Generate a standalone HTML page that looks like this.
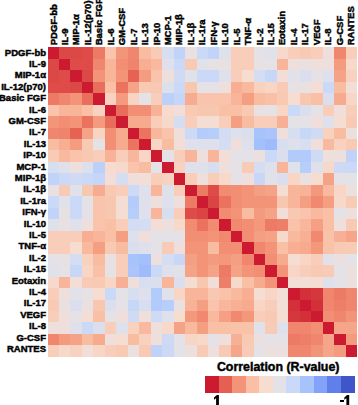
<!DOCTYPE html>
<html><head><meta charset="utf-8"><style>
html,body{margin:0;padding:0;background:#fff;width:358px;height:405px;overflow:hidden}
svg{display:block}
text{font-family:"Liberation Sans",sans-serif;font-weight:bold;fill:#000;stroke:#000;stroke-width:0.45px}
.lab{font-size:9.5px}
.ttl{font-size:12.4px}
</style></head><body>
<svg width="358" height="405" viewBox="0 0 358 405" shape-rendering="crispEdges">
<g><rect x="47.50" y="47.30" width="11.77" height="11.77" fill="#cc1b30"/>
<rect x="58.97" y="47.30" width="11.77" height="11.77" fill="#dc4846"/>
<rect x="70.43" y="47.30" width="11.77" height="11.77" fill="#dc4846"/>
<rect x="81.89" y="47.30" width="11.77" height="11.77" fill="#de4b48"/>
<rect x="93.36" y="47.30" width="11.77" height="11.77" fill="#ec7a64"/>
<rect x="104.83" y="47.30" width="11.77" height="11.77" fill="#f9c4ab"/>
<rect x="116.29" y="47.30" width="11.77" height="11.77" fill="#f39579"/>
<rect x="127.75" y="47.30" width="11.77" height="11.77" fill="#f0866e"/>
<rect x="139.22" y="47.30" width="11.77" height="11.77" fill="#f8bca0"/>
<rect x="150.69" y="47.30" width="11.77" height="11.77" fill="#f8cbb6"/>
<rect x="162.15" y="47.30" width="11.77" height="11.77" fill="#d7deef"/>
<rect x="173.62" y="47.30" width="11.77" height="11.77" fill="#c1d4f8"/>
<rect x="185.08" y="47.30" width="11.77" height="11.77" fill="#e9e0e1"/>
<rect x="196.54" y="47.30" width="11.77" height="11.77" fill="#cad9f7"/>
<rect x="208.01" y="47.30" width="11.77" height="11.77" fill="#c1d4f8"/>
<rect x="219.47" y="47.30" width="11.77" height="11.77" fill="#dee0eb"/>
<rect x="230.94" y="47.30" width="11.77" height="11.77" fill="#f8ceba"/>
<rect x="242.41" y="47.30" width="11.77" height="11.77" fill="#f8ceba"/>
<rect x="253.87" y="47.30" width="11.77" height="11.77" fill="#e4e2e7"/>
<rect x="265.34" y="47.30" width="11.77" height="11.77" fill="#e0e1e9"/>
<rect x="276.80" y="47.30" width="11.77" height="11.77" fill="#f7d9cc"/>
<rect x="288.26" y="47.30" width="11.77" height="11.77" fill="#f8ceba"/>
<rect x="299.73" y="47.30" width="11.77" height="11.77" fill="#f8cab4"/>
<rect x="311.19" y="47.30" width="11.77" height="11.77" fill="#f8ceba"/>
<rect x="322.66" y="47.30" width="11.77" height="11.77" fill="#eedfdc"/>
<rect x="334.12" y="47.30" width="11.77" height="11.77" fill="#f0866e"/>
<rect x="345.59" y="47.30" width="11.77" height="11.77" fill="#f8ceba"/>
<rect x="47.50" y="58.77" width="11.77" height="11.77" fill="#dc4846"/>
<rect x="58.97" y="58.77" width="11.77" height="11.77" fill="#cc1b30"/>
<rect x="70.43" y="58.77" width="11.77" height="11.77" fill="#de4b48"/>
<rect x="81.89" y="58.77" width="11.77" height="11.77" fill="#de4b48"/>
<rect x="93.36" y="58.77" width="11.77" height="11.77" fill="#f0866e"/>
<rect x="104.83" y="58.77" width="11.77" height="11.77" fill="#f8b59a"/>
<rect x="116.29" y="58.77" width="11.77" height="11.77" fill="#f28e73"/>
<rect x="127.75" y="58.77" width="11.77" height="11.77" fill="#ef846c"/>
<rect x="139.22" y="58.77" width="11.77" height="11.77" fill="#f7ae93"/>
<rect x="150.69" y="58.77" width="11.77" height="11.77" fill="#f8b99e"/>
<rect x="162.15" y="58.77" width="11.77" height="11.77" fill="#dee0eb"/>
<rect x="173.62" y="58.77" width="11.77" height="11.77" fill="#cad9f7"/>
<rect x="185.08" y="58.77" width="11.77" height="11.77" fill="#f8cab4"/>
<rect x="196.54" y="58.77" width="11.77" height="11.77" fill="#e0e1e9"/>
<rect x="208.01" y="58.77" width="11.77" height="11.77" fill="#e6e1e5"/>
<rect x="219.47" y="58.77" width="11.77" height="11.77" fill="#e9e0e1"/>
<rect x="230.94" y="58.77" width="11.77" height="11.77" fill="#f8ceba"/>
<rect x="242.41" y="58.77" width="11.77" height="11.77" fill="#f8ceba"/>
<rect x="253.87" y="58.77" width="11.77" height="11.77" fill="#e6e1e5"/>
<rect x="265.34" y="58.77" width="11.77" height="11.77" fill="#e4e2e7"/>
<rect x="276.80" y="58.77" width="11.77" height="11.77" fill="#f8b59a"/>
<rect x="288.26" y="58.77" width="11.77" height="11.77" fill="#eedfdc"/>
<rect x="299.73" y="58.77" width="11.77" height="11.77" fill="#e9e0e1"/>
<rect x="311.19" y="58.77" width="11.77" height="11.77" fill="#efded9"/>
<rect x="322.66" y="58.77" width="11.77" height="11.77" fill="#eedfdc"/>
<rect x="334.12" y="58.77" width="11.77" height="11.77" fill="#f49a7e"/>
<rect x="345.59" y="58.77" width="11.77" height="11.77" fill="#f7d9cc"/>
<rect x="47.50" y="70.23" width="11.77" height="11.77" fill="#dc4846"/>
<rect x="58.97" y="70.23" width="11.77" height="11.77" fill="#de4b48"/>
<rect x="70.43" y="70.23" width="11.77" height="11.77" fill="#cc1b30"/>
<rect x="81.89" y="70.23" width="11.77" height="11.77" fill="#dc4846"/>
<rect x="93.36" y="70.23" width="11.77" height="11.77" fill="#f39377"/>
<rect x="104.83" y="70.23" width="11.77" height="11.77" fill="#f8b59a"/>
<rect x="116.29" y="70.23" width="11.77" height="11.77" fill="#f39377"/>
<rect x="127.75" y="70.23" width="11.77" height="11.77" fill="#e66354"/>
<rect x="139.22" y="70.23" width="11.77" height="11.77" fill="#f49c80"/>
<rect x="150.69" y="70.23" width="11.77" height="11.77" fill="#f9c4ab"/>
<rect x="162.15" y="70.23" width="11.77" height="11.77" fill="#eedfdc"/>
<rect x="173.62" y="70.23" width="11.77" height="11.77" fill="#d0dbf3"/>
<rect x="185.08" y="70.23" width="11.77" height="11.77" fill="#e0e1e9"/>
<rect x="196.54" y="70.23" width="11.77" height="11.77" fill="#cad9f7"/>
<rect x="208.01" y="70.23" width="11.77" height="11.77" fill="#cad9f7"/>
<rect x="219.47" y="70.23" width="11.77" height="11.77" fill="#dee0eb"/>
<rect x="230.94" y="70.23" width="11.77" height="11.77" fill="#f8ceba"/>
<rect x="242.41" y="70.23" width="11.77" height="11.77" fill="#f7dcd0"/>
<rect x="253.87" y="70.23" width="11.77" height="11.77" fill="#d4ddf1"/>
<rect x="265.34" y="70.23" width="11.77" height="11.77" fill="#c6d7f8"/>
<rect x="276.80" y="70.23" width="11.77" height="11.77" fill="#f2ded6"/>
<rect x="288.26" y="70.23" width="11.77" height="11.77" fill="#e0e1e9"/>
<rect x="299.73" y="70.23" width="11.77" height="11.77" fill="#dadeed"/>
<rect x="311.19" y="70.23" width="11.77" height="11.77" fill="#e6e1e5"/>
<rect x="322.66" y="70.23" width="11.77" height="11.77" fill="#dee0eb"/>
<rect x="334.12" y="70.23" width="11.77" height="11.77" fill="#f5a387"/>
<rect x="345.59" y="70.23" width="11.77" height="11.77" fill="#f8d2c1"/>
<rect x="47.50" y="81.69" width="11.77" height="11.77" fill="#de4b48"/>
<rect x="58.97" y="81.69" width="11.77" height="11.77" fill="#de4b48"/>
<rect x="70.43" y="81.69" width="11.77" height="11.77" fill="#dc4846"/>
<rect x="81.89" y="81.69" width="11.77" height="11.77" fill="#cc1b30"/>
<rect x="93.36" y="81.69" width="11.77" height="11.77" fill="#e96f5d"/>
<rect x="104.83" y="81.69" width="11.77" height="11.77" fill="#f9c0a5"/>
<rect x="116.29" y="81.69" width="11.77" height="11.77" fill="#ea725f"/>
<rect x="127.75" y="81.69" width="11.77" height="11.77" fill="#f5a387"/>
<rect x="139.22" y="81.69" width="11.77" height="11.77" fill="#f8cab4"/>
<rect x="150.69" y="81.69" width="11.77" height="11.77" fill="#f8c8b2"/>
<rect x="162.15" y="81.69" width="11.77" height="11.77" fill="#dcdfec"/>
<rect x="173.62" y="81.69" width="11.77" height="11.77" fill="#cad9f7"/>
<rect x="185.08" y="81.69" width="11.77" height="11.77" fill="#f8c7b0"/>
<rect x="196.54" y="81.69" width="11.77" height="11.77" fill="#e4e2e7"/>
<rect x="208.01" y="81.69" width="11.77" height="11.77" fill="#e4e2e7"/>
<rect x="219.47" y="81.69" width="11.77" height="11.77" fill="#eedfdc"/>
<rect x="230.94" y="81.69" width="11.77" height="11.77" fill="#f7ae93"/>
<rect x="242.41" y="81.69" width="11.77" height="11.77" fill="#f8b99e"/>
<rect x="253.87" y="81.69" width="11.77" height="11.77" fill="#f8d1bf"/>
<rect x="265.34" y="81.69" width="11.77" height="11.77" fill="#f8d5c5"/>
<rect x="276.80" y="81.69" width="11.77" height="11.77" fill="#f8cbb6"/>
<rect x="288.26" y="81.69" width="11.77" height="11.77" fill="#e7e1e4"/>
<rect x="299.73" y="81.69" width="11.77" height="11.77" fill="#e9e0e1"/>
<rect x="311.19" y="81.69" width="11.77" height="11.77" fill="#f4ddd3"/>
<rect x="322.66" y="81.69" width="11.77" height="11.77" fill="#cad9f7"/>
<rect x="334.12" y="81.69" width="11.77" height="11.77" fill="#f8bca0"/>
<rect x="345.59" y="81.69" width="11.77" height="11.77" fill="#f2ded6"/>
<rect x="47.50" y="93.16" width="11.77" height="11.77" fill="#ec7a64"/>
<rect x="58.97" y="93.16" width="11.77" height="11.77" fill="#f0866e"/>
<rect x="70.43" y="93.16" width="11.77" height="11.77" fill="#f39377"/>
<rect x="81.89" y="93.16" width="11.77" height="11.77" fill="#e96f5d"/>
<rect x="93.36" y="93.16" width="11.77" height="11.77" fill="#cc1b30"/>
<rect x="104.83" y="93.16" width="11.77" height="11.77" fill="#f8d2c1"/>
<rect x="116.29" y="93.16" width="11.77" height="11.77" fill="#f49a7e"/>
<rect x="127.75" y="93.16" width="11.77" height="11.77" fill="#f8d4c3"/>
<rect x="139.22" y="93.16" width="11.77" height="11.77" fill="#e5e2e6"/>
<rect x="150.69" y="93.16" width="11.77" height="11.77" fill="#f8ceba"/>
<rect x="162.15" y="93.16" width="11.77" height="11.77" fill="#bcd0f9"/>
<rect x="173.62" y="93.16" width="11.77" height="11.77" fill="#c5d6f8"/>
<rect x="185.08" y="93.16" width="11.77" height="11.77" fill="#f6ac90"/>
<rect x="196.54" y="93.16" width="11.77" height="11.77" fill="#f9c4ab"/>
<rect x="208.01" y="93.16" width="11.77" height="11.77" fill="#f9c4ab"/>
<rect x="219.47" y="93.16" width="11.77" height="11.77" fill="#f9c4ab"/>
<rect x="230.94" y="93.16" width="11.77" height="11.77" fill="#f8b59a"/>
<rect x="242.41" y="93.16" width="11.77" height="11.77" fill="#f49e82"/>
<rect x="253.87" y="93.16" width="11.77" height="11.77" fill="#f8bca0"/>
<rect x="265.34" y="93.16" width="11.77" height="11.77" fill="#f9c0a5"/>
<rect x="276.80" y="93.16" width="11.77" height="11.77" fill="#f8cab4"/>
<rect x="288.26" y="93.16" width="11.77" height="11.77" fill="#f7dcd0"/>
<rect x="299.73" y="93.16" width="11.77" height="11.77" fill="#f8c7b0"/>
<rect x="311.19" y="93.16" width="11.77" height="11.77" fill="#f9c0a5"/>
<rect x="322.66" y="93.16" width="11.77" height="11.77" fill="#dbdfed"/>
<rect x="334.12" y="93.16" width="11.77" height="11.77" fill="#f6aa8e"/>
<rect x="345.59" y="93.16" width="11.77" height="11.77" fill="#f8d5c5"/>
<rect x="47.50" y="104.62" width="11.77" height="11.77" fill="#f9c4ab"/>
<rect x="58.97" y="104.62" width="11.77" height="11.77" fill="#f8b59a"/>
<rect x="70.43" y="104.62" width="11.77" height="11.77" fill="#f8b59a"/>
<rect x="81.89" y="104.62" width="11.77" height="11.77" fill="#f9c0a5"/>
<rect x="93.36" y="104.62" width="11.77" height="11.77" fill="#f8d2c1"/>
<rect x="104.83" y="104.62" width="11.77" height="11.77" fill="#cc1b30"/>
<rect x="116.29" y="104.62" width="11.77" height="11.77" fill="#e86d5b"/>
<rect x="127.75" y="104.62" width="11.77" height="11.77" fill="#f28e73"/>
<rect x="139.22" y="104.62" width="11.77" height="11.77" fill="#f28e73"/>
<rect x="150.69" y="104.62" width="11.77" height="11.77" fill="#f7b297"/>
<rect x="162.15" y="104.62" width="11.77" height="11.77" fill="#f7dbce"/>
<rect x="173.62" y="104.62" width="11.77" height="11.77" fill="#f2ded6"/>
<rect x="185.08" y="104.62" width="11.77" height="11.77" fill="#f8cab4"/>
<rect x="196.54" y="104.62" width="11.77" height="11.77" fill="#f8c7b0"/>
<rect x="208.01" y="104.62" width="11.77" height="11.77" fill="#f8c7b0"/>
<rect x="219.47" y="104.62" width="11.77" height="11.77" fill="#f9c0a5"/>
<rect x="230.94" y="104.62" width="11.77" height="11.77" fill="#f9c0a5"/>
<rect x="242.41" y="104.62" width="11.77" height="11.77" fill="#f8cab4"/>
<rect x="253.87" y="104.62" width="11.77" height="11.77" fill="#e9e0e1"/>
<rect x="265.34" y="104.62" width="11.77" height="11.77" fill="#e6e1e5"/>
<rect x="276.80" y="104.62" width="11.77" height="11.77" fill="#f8d5c5"/>
<rect x="288.26" y="104.62" width="11.77" height="11.77" fill="#cad9f7"/>
<rect x="299.73" y="104.62" width="11.77" height="11.77" fill="#dbdfed"/>
<rect x="311.19" y="104.62" width="11.77" height="11.77" fill="#e4e2e7"/>
<rect x="322.66" y="104.62" width="11.77" height="11.77" fill="#f8ceba"/>
<rect x="334.12" y="104.62" width="11.77" height="11.77" fill="#efded9"/>
<rect x="345.59" y="104.62" width="11.77" height="11.77" fill="#f8ceba"/>
<rect x="47.50" y="116.09" width="11.77" height="11.77" fill="#f39579"/>
<rect x="58.97" y="116.09" width="11.77" height="11.77" fill="#f28e73"/>
<rect x="70.43" y="116.09" width="11.77" height="11.77" fill="#f39377"/>
<rect x="81.89" y="116.09" width="11.77" height="11.77" fill="#ea725f"/>
<rect x="93.36" y="116.09" width="11.77" height="11.77" fill="#f49a7e"/>
<rect x="104.83" y="116.09" width="11.77" height="11.77" fill="#e86d5b"/>
<rect x="116.29" y="116.09" width="11.77" height="11.77" fill="#cc1b30"/>
<rect x="127.75" y="116.09" width="11.77" height="11.77" fill="#f6aa8e"/>
<rect x="139.22" y="116.09" width="11.77" height="11.77" fill="#f6aa8e"/>
<rect x="150.69" y="116.09" width="11.77" height="11.77" fill="#f8ceba"/>
<rect x="162.15" y="116.09" width="11.77" height="11.77" fill="#f7d9cc"/>
<rect x="173.62" y="116.09" width="11.77" height="11.77" fill="#d4ddf1"/>
<rect x="185.08" y="116.09" width="11.77" height="11.77" fill="#f8ceba"/>
<rect x="196.54" y="116.09" width="11.77" height="11.77" fill="#f4ddd3"/>
<rect x="208.01" y="116.09" width="11.77" height="11.77" fill="#f4ddd3"/>
<rect x="219.47" y="116.09" width="11.77" height="11.77" fill="#f8ceba"/>
<rect x="230.94" y="116.09" width="11.77" height="11.77" fill="#f49e82"/>
<rect x="242.41" y="116.09" width="11.77" height="11.77" fill="#f8bca0"/>
<rect x="253.87" y="116.09" width="11.77" height="11.77" fill="#f8ceba"/>
<rect x="265.34" y="116.09" width="11.77" height="11.77" fill="#f8ceba"/>
<rect x="276.80" y="116.09" width="11.77" height="11.77" fill="#f7b095"/>
<rect x="288.26" y="116.09" width="11.77" height="11.77" fill="#e4e2e7"/>
<rect x="299.73" y="116.09" width="11.77" height="11.77" fill="#e4e2e7"/>
<rect x="311.19" y="116.09" width="11.77" height="11.77" fill="#efded9"/>
<rect x="322.66" y="116.09" width="11.77" height="11.77" fill="#dee0eb"/>
<rect x="334.12" y="116.09" width="11.77" height="11.77" fill="#f5ddd2"/>
<rect x="345.59" y="116.09" width="11.77" height="11.77" fill="#f8cab4"/>
<rect x="47.50" y="127.55" width="11.77" height="11.77" fill="#f0866e"/>
<rect x="58.97" y="127.55" width="11.77" height="11.77" fill="#ef846c"/>
<rect x="70.43" y="127.55" width="11.77" height="11.77" fill="#e66354"/>
<rect x="81.89" y="127.55" width="11.77" height="11.77" fill="#f5a387"/>
<rect x="93.36" y="127.55" width="11.77" height="11.77" fill="#f8d4c3"/>
<rect x="104.83" y="127.55" width="11.77" height="11.77" fill="#f28e73"/>
<rect x="116.29" y="127.55" width="11.77" height="11.77" fill="#f6aa8e"/>
<rect x="127.75" y="127.55" width="11.77" height="11.77" fill="#cc1b30"/>
<rect x="139.22" y="127.55" width="11.77" height="11.77" fill="#eb7461"/>
<rect x="150.69" y="127.55" width="11.77" height="11.77" fill="#f8b79c"/>
<rect x="162.15" y="127.55" width="11.77" height="11.77" fill="#f9c4ab"/>
<rect x="173.62" y="127.55" width="11.77" height="11.77" fill="#efded9"/>
<rect x="185.08" y="127.55" width="11.77" height="11.77" fill="#cddaf5"/>
<rect x="196.54" y="127.55" width="11.77" height="11.77" fill="#b5ccfa"/>
<rect x="208.01" y="127.55" width="11.77" height="11.77" fill="#b8cefa"/>
<rect x="219.47" y="127.55" width="11.77" height="11.77" fill="#d3dcf1"/>
<rect x="230.94" y="127.55" width="11.77" height="11.77" fill="#dee0eb"/>
<rect x="242.41" y="127.55" width="11.77" height="11.77" fill="#dbdfed"/>
<rect x="253.87" y="127.55" width="11.77" height="11.77" fill="#a7c3fc"/>
<rect x="265.34" y="127.55" width="11.77" height="11.77" fill="#abc5fc"/>
<rect x="276.80" y="127.55" width="11.77" height="11.77" fill="#eedfdc"/>
<rect x="288.26" y="127.55" width="11.77" height="11.77" fill="#d7deef"/>
<rect x="299.73" y="127.55" width="11.77" height="11.77" fill="#c6d7f8"/>
<rect x="311.19" y="127.55" width="11.77" height="11.77" fill="#d0dbf3"/>
<rect x="322.66" y="127.55" width="11.77" height="11.77" fill="#f8d1bf"/>
<rect x="334.12" y="127.55" width="11.77" height="11.77" fill="#f8bca0"/>
<rect x="345.59" y="127.55" width="11.77" height="11.77" fill="#ece0de"/>
<rect x="47.50" y="139.02" width="11.77" height="11.77" fill="#f8bca0"/>
<rect x="58.97" y="139.02" width="11.77" height="11.77" fill="#f7ae93"/>
<rect x="70.43" y="139.02" width="11.77" height="11.77" fill="#f49c80"/>
<rect x="81.89" y="139.02" width="11.77" height="11.77" fill="#f8cab4"/>
<rect x="93.36" y="139.02" width="11.77" height="11.77" fill="#e5e2e6"/>
<rect x="104.83" y="139.02" width="11.77" height="11.77" fill="#f28e73"/>
<rect x="116.29" y="139.02" width="11.77" height="11.77" fill="#f6aa8e"/>
<rect x="127.75" y="139.02" width="11.77" height="11.77" fill="#eb7461"/>
<rect x="139.22" y="139.02" width="11.77" height="11.77" fill="#cc1b30"/>
<rect x="150.69" y="139.02" width="11.77" height="11.77" fill="#f8d5c5"/>
<rect x="162.15" y="139.02" width="11.77" height="11.77" fill="#f8bca0"/>
<rect x="173.62" y="139.02" width="11.77" height="11.77" fill="#f2ded6"/>
<rect x="185.08" y="139.02" width="11.77" height="11.77" fill="#dee0eb"/>
<rect x="196.54" y="139.02" width="11.77" height="11.77" fill="#dee0eb"/>
<rect x="208.01" y="139.02" width="11.77" height="11.77" fill="#dee0eb"/>
<rect x="219.47" y="139.02" width="11.77" height="11.77" fill="#d4ddf1"/>
<rect x="230.94" y="139.02" width="11.77" height="11.77" fill="#efded9"/>
<rect x="242.41" y="139.02" width="11.77" height="11.77" fill="#dee0eb"/>
<rect x="253.87" y="139.02" width="11.77" height="11.77" fill="#a4c0fc"/>
<rect x="265.34" y="139.02" width="11.77" height="11.77" fill="#9ebbfc"/>
<rect x="276.80" y="139.02" width="11.77" height="11.77" fill="#d7deef"/>
<rect x="288.26" y="139.02" width="11.77" height="11.77" fill="#dee0eb"/>
<rect x="299.73" y="139.02" width="11.77" height="11.77" fill="#d7deef"/>
<rect x="311.19" y="139.02" width="11.77" height="11.77" fill="#efded9"/>
<rect x="322.66" y="139.02" width="11.77" height="11.77" fill="#f8b99e"/>
<rect x="334.12" y="139.02" width="11.77" height="11.77" fill="#f8d1bf"/>
<rect x="345.59" y="139.02" width="11.77" height="11.77" fill="#f8cab4"/>
<rect x="47.50" y="150.49" width="11.77" height="11.77" fill="#f8cbb6"/>
<rect x="58.97" y="150.49" width="11.77" height="11.77" fill="#f8b99e"/>
<rect x="70.43" y="150.49" width="11.77" height="11.77" fill="#f9c4ab"/>
<rect x="81.89" y="150.49" width="11.77" height="11.77" fill="#f8c8b2"/>
<rect x="93.36" y="150.49" width="11.77" height="11.77" fill="#f8ceba"/>
<rect x="104.83" y="150.49" width="11.77" height="11.77" fill="#f7b297"/>
<rect x="116.29" y="150.49" width="11.77" height="11.77" fill="#f8ceba"/>
<rect x="127.75" y="150.49" width="11.77" height="11.77" fill="#f8b79c"/>
<rect x="139.22" y="150.49" width="11.77" height="11.77" fill="#f8d5c5"/>
<rect x="150.69" y="150.49" width="11.77" height="11.77" fill="#cc1b30"/>
<rect x="162.15" y="150.49" width="11.77" height="11.77" fill="#e4e2e7"/>
<rect x="173.62" y="150.49" width="11.77" height="11.77" fill="#f8ceba"/>
<rect x="185.08" y="150.49" width="11.77" height="11.77" fill="#f8b59a"/>
<rect x="196.54" y="150.49" width="11.77" height="11.77" fill="#eedfdc"/>
<rect x="208.01" y="150.49" width="11.77" height="11.77" fill="#f8b59a"/>
<rect x="219.47" y="150.49" width="11.77" height="11.77" fill="#f2ded6"/>
<rect x="230.94" y="150.49" width="11.77" height="11.77" fill="#e4e2e7"/>
<rect x="242.41" y="150.49" width="11.77" height="11.77" fill="#e4e2e7"/>
<rect x="253.87" y="150.49" width="11.77" height="11.77" fill="#ece0de"/>
<rect x="265.34" y="150.49" width="11.77" height="11.77" fill="#cad9f7"/>
<rect x="276.80" y="150.49" width="11.77" height="11.77" fill="#dbdfed"/>
<rect x="288.26" y="150.49" width="11.77" height="11.77" fill="#b3cbfa"/>
<rect x="299.73" y="150.49" width="11.77" height="11.77" fill="#b3cbfa"/>
<rect x="311.19" y="150.49" width="11.77" height="11.77" fill="#cfdbf4"/>
<rect x="322.66" y="150.49" width="11.77" height="11.77" fill="#eedfdc"/>
<rect x="334.12" y="150.49" width="11.77" height="11.77" fill="#eedfdc"/>
<rect x="345.59" y="150.49" width="11.77" height="11.77" fill="#c0d2f8"/>
<rect x="47.50" y="161.95" width="11.77" height="11.77" fill="#d7deef"/>
<rect x="58.97" y="161.95" width="11.77" height="11.77" fill="#dee0eb"/>
<rect x="70.43" y="161.95" width="11.77" height="11.77" fill="#eedfdc"/>
<rect x="81.89" y="161.95" width="11.77" height="11.77" fill="#dcdfec"/>
<rect x="93.36" y="161.95" width="11.77" height="11.77" fill="#bcd0f9"/>
<rect x="104.83" y="161.95" width="11.77" height="11.77" fill="#f7dbce"/>
<rect x="116.29" y="161.95" width="11.77" height="11.77" fill="#f7d9cc"/>
<rect x="127.75" y="161.95" width="11.77" height="11.77" fill="#f9c4ab"/>
<rect x="139.22" y="161.95" width="11.77" height="11.77" fill="#f8bca0"/>
<rect x="150.69" y="161.95" width="11.77" height="11.77" fill="#e4e2e7"/>
<rect x="162.15" y="161.95" width="11.77" height="11.77" fill="#cc1b30"/>
<rect x="173.62" y="161.95" width="11.77" height="11.77" fill="#f8d2c1"/>
<rect x="185.08" y="161.95" width="11.77" height="11.77" fill="#dee0eb"/>
<rect x="196.54" y="161.95" width="11.77" height="11.77" fill="#dee0eb"/>
<rect x="208.01" y="161.95" width="11.77" height="11.77" fill="#d7deef"/>
<rect x="219.47" y="161.95" width="11.77" height="11.77" fill="#eedfdc"/>
<rect x="230.94" y="161.95" width="11.77" height="11.77" fill="#e4e2e7"/>
<rect x="242.41" y="161.95" width="11.77" height="11.77" fill="#f8cbb6"/>
<rect x="253.87" y="161.95" width="11.77" height="11.77" fill="#d4ddf1"/>
<rect x="265.34" y="161.95" width="11.77" height="11.77" fill="#dee0eb"/>
<rect x="276.80" y="161.95" width="11.77" height="11.77" fill="#f8b59a"/>
<rect x="288.26" y="161.95" width="11.77" height="11.77" fill="#e1e1e9"/>
<rect x="299.73" y="161.95" width="11.77" height="11.77" fill="#b8cefa"/>
<rect x="311.19" y="161.95" width="11.77" height="11.77" fill="#dee0eb"/>
<rect x="322.66" y="161.95" width="11.77" height="11.77" fill="#f7d9cc"/>
<rect x="334.12" y="161.95" width="11.77" height="11.77" fill="#cedaf5"/>
<rect x="345.59" y="161.95" width="11.77" height="11.77" fill="#cbd9f6"/>
<rect x="47.50" y="173.41" width="11.77" height="11.77" fill="#c1d4f8"/>
<rect x="58.97" y="173.41" width="11.77" height="11.77" fill="#cad9f7"/>
<rect x="70.43" y="173.41" width="11.77" height="11.77" fill="#d0dbf3"/>
<rect x="81.89" y="173.41" width="11.77" height="11.77" fill="#cad9f7"/>
<rect x="93.36" y="173.41" width="11.77" height="11.77" fill="#c5d6f8"/>
<rect x="104.83" y="173.41" width="11.77" height="11.77" fill="#f2ded6"/>
<rect x="116.29" y="173.41" width="11.77" height="11.77" fill="#d4ddf1"/>
<rect x="127.75" y="173.41" width="11.77" height="11.77" fill="#efded9"/>
<rect x="139.22" y="173.41" width="11.77" height="11.77" fill="#f2ded6"/>
<rect x="150.69" y="173.41" width="11.77" height="11.77" fill="#f8ceba"/>
<rect x="162.15" y="173.41" width="11.77" height="11.77" fill="#f8d2c1"/>
<rect x="173.62" y="173.41" width="11.77" height="11.77" fill="#cc1b30"/>
<rect x="185.08" y="173.41" width="11.77" height="11.77" fill="#f8ceba"/>
<rect x="196.54" y="173.41" width="11.77" height="11.77" fill="#eedfdc"/>
<rect x="208.01" y="173.41" width="11.77" height="11.77" fill="#f8ceba"/>
<rect x="219.47" y="173.41" width="11.77" height="11.77" fill="#f7d9cc"/>
<rect x="230.94" y="173.41" width="11.77" height="11.77" fill="#e4e2e7"/>
<rect x="242.41" y="173.41" width="11.77" height="11.77" fill="#eedfdc"/>
<rect x="253.87" y="173.41" width="11.77" height="11.77" fill="#c6d7f8"/>
<rect x="265.34" y="173.41" width="11.77" height="11.77" fill="#e1e1e9"/>
<rect x="276.80" y="173.41" width="11.77" height="11.77" fill="#dadeed"/>
<rect x="288.26" y="173.41" width="11.77" height="11.77" fill="#f8d5c5"/>
<rect x="299.73" y="173.41" width="11.77" height="11.77" fill="#eae0e0"/>
<rect x="311.19" y="173.41" width="11.77" height="11.77" fill="#f7dcd0"/>
<rect x="322.66" y="173.41" width="11.77" height="11.77" fill="#f5a387"/>
<rect x="334.12" y="173.41" width="11.77" height="11.77" fill="#e4e2e7"/>
<rect x="345.59" y="173.41" width="11.77" height="11.77" fill="#e4e2e7"/>
<rect x="47.50" y="184.88" width="11.77" height="11.77" fill="#e9e0e1"/>
<rect x="58.97" y="184.88" width="11.77" height="11.77" fill="#f8cab4"/>
<rect x="70.43" y="184.88" width="11.77" height="11.77" fill="#e0e1e9"/>
<rect x="81.89" y="184.88" width="11.77" height="11.77" fill="#f8c7b0"/>
<rect x="93.36" y="184.88" width="11.77" height="11.77" fill="#f6ac90"/>
<rect x="104.83" y="184.88" width="11.77" height="11.77" fill="#f8cab4"/>
<rect x="116.29" y="184.88" width="11.77" height="11.77" fill="#f8ceba"/>
<rect x="127.75" y="184.88" width="11.77" height="11.77" fill="#cddaf5"/>
<rect x="139.22" y="184.88" width="11.77" height="11.77" fill="#dee0eb"/>
<rect x="150.69" y="184.88" width="11.77" height="11.77" fill="#f8b59a"/>
<rect x="162.15" y="184.88" width="11.77" height="11.77" fill="#dee0eb"/>
<rect x="173.62" y="184.88" width="11.77" height="11.77" fill="#f8ceba"/>
<rect x="185.08" y="184.88" width="11.77" height="11.77" fill="#cc1b30"/>
<rect x="196.54" y="184.88" width="11.77" height="11.77" fill="#ec7a64"/>
<rect x="208.01" y="184.88" width="11.77" height="11.77" fill="#de4b48"/>
<rect x="219.47" y="184.88" width="11.77" height="11.77" fill="#f18b71"/>
<rect x="230.94" y="184.88" width="11.77" height="11.77" fill="#f28e73"/>
<rect x="242.41" y="184.88" width="11.77" height="11.77" fill="#f39377"/>
<rect x="253.87" y="184.88" width="11.77" height="11.77" fill="#f49e82"/>
<rect x="265.34" y="184.88" width="11.77" height="11.77" fill="#f5a387"/>
<rect x="276.80" y="184.88" width="11.77" height="11.77" fill="#f5ddd2"/>
<rect x="288.26" y="184.88" width="11.77" height="11.77" fill="#f8b59a"/>
<rect x="299.73" y="184.88" width="11.77" height="11.77" fill="#f7b297"/>
<rect x="311.19" y="184.88" width="11.77" height="11.77" fill="#f4987c"/>
<rect x="322.66" y="184.88" width="11.77" height="11.77" fill="#f8b99e"/>
<rect x="334.12" y="184.88" width="11.77" height="11.77" fill="#f8d5c5"/>
<rect x="345.59" y="184.88" width="11.77" height="11.77" fill="#ece0de"/>
<rect x="47.50" y="196.34" width="11.77" height="11.77" fill="#cad9f7"/>
<rect x="58.97" y="196.34" width="11.77" height="11.77" fill="#e0e1e9"/>
<rect x="70.43" y="196.34" width="11.77" height="11.77" fill="#cad9f7"/>
<rect x="81.89" y="196.34" width="11.77" height="11.77" fill="#e4e2e7"/>
<rect x="93.36" y="196.34" width="11.77" height="11.77" fill="#f9c4ab"/>
<rect x="104.83" y="196.34" width="11.77" height="11.77" fill="#f8c7b0"/>
<rect x="116.29" y="196.34" width="11.77" height="11.77" fill="#f4ddd3"/>
<rect x="127.75" y="196.34" width="11.77" height="11.77" fill="#b5ccfa"/>
<rect x="139.22" y="196.34" width="11.77" height="11.77" fill="#dee0eb"/>
<rect x="150.69" y="196.34" width="11.77" height="11.77" fill="#eedfdc"/>
<rect x="162.15" y="196.34" width="11.77" height="11.77" fill="#dee0eb"/>
<rect x="173.62" y="196.34" width="11.77" height="11.77" fill="#eedfdc"/>
<rect x="185.08" y="196.34" width="11.77" height="11.77" fill="#ec7a64"/>
<rect x="196.54" y="196.34" width="11.77" height="11.77" fill="#cc1b30"/>
<rect x="208.01" y="196.34" width="11.77" height="11.77" fill="#db4444"/>
<rect x="219.47" y="196.34" width="11.77" height="11.77" fill="#ea725f"/>
<rect x="230.94" y="196.34" width="11.77" height="11.77" fill="#f28e73"/>
<rect x="242.41" y="196.34" width="11.77" height="11.77" fill="#f39377"/>
<rect x="253.87" y="196.34" width="11.77" height="11.77" fill="#f39377"/>
<rect x="265.34" y="196.34" width="11.77" height="11.77" fill="#f39377"/>
<rect x="276.80" y="196.34" width="11.77" height="11.77" fill="#f8c7b0"/>
<rect x="288.26" y="196.34" width="11.77" height="11.77" fill="#f8b59a"/>
<rect x="299.73" y="196.34" width="11.77" height="11.77" fill="#f49e82"/>
<rect x="311.19" y="196.34" width="11.77" height="11.77" fill="#f08970"/>
<rect x="322.66" y="196.34" width="11.77" height="11.77" fill="#f49e82"/>
<rect x="334.12" y="196.34" width="11.77" height="11.77" fill="#f7d9cc"/>
<rect x="345.59" y="196.34" width="11.77" height="11.77" fill="#f8cbb6"/>
<rect x="47.50" y="207.81" width="11.77" height="11.77" fill="#c1d4f8"/>
<rect x="58.97" y="207.81" width="11.77" height="11.77" fill="#e6e1e5"/>
<rect x="70.43" y="207.81" width="11.77" height="11.77" fill="#cad9f7"/>
<rect x="81.89" y="207.81" width="11.77" height="11.77" fill="#e4e2e7"/>
<rect x="93.36" y="207.81" width="11.77" height="11.77" fill="#f9c4ab"/>
<rect x="104.83" y="207.81" width="11.77" height="11.77" fill="#f8c7b0"/>
<rect x="116.29" y="207.81" width="11.77" height="11.77" fill="#f4ddd3"/>
<rect x="127.75" y="207.81" width="11.77" height="11.77" fill="#b8cefa"/>
<rect x="139.22" y="207.81" width="11.77" height="11.77" fill="#dee0eb"/>
<rect x="150.69" y="207.81" width="11.77" height="11.77" fill="#f8b59a"/>
<rect x="162.15" y="207.81" width="11.77" height="11.77" fill="#d7deef"/>
<rect x="173.62" y="207.81" width="11.77" height="11.77" fill="#f8ceba"/>
<rect x="185.08" y="207.81" width="11.77" height="11.77" fill="#de4b48"/>
<rect x="196.54" y="207.81" width="11.77" height="11.77" fill="#db4444"/>
<rect x="208.01" y="207.81" width="11.77" height="11.77" fill="#cc1b30"/>
<rect x="219.47" y="207.81" width="11.77" height="11.77" fill="#f18b71"/>
<rect x="230.94" y="207.81" width="11.77" height="11.77" fill="#f39377"/>
<rect x="242.41" y="207.81" width="11.77" height="11.77" fill="#f8bca0"/>
<rect x="253.87" y="207.81" width="11.77" height="11.77" fill="#f49a7e"/>
<rect x="265.34" y="207.81" width="11.77" height="11.77" fill="#f5a387"/>
<rect x="276.80" y="207.81" width="11.77" height="11.77" fill="#f2ded6"/>
<rect x="288.26" y="207.81" width="11.77" height="11.77" fill="#f8c8b2"/>
<rect x="299.73" y="207.81" width="11.77" height="11.77" fill="#f9c4ab"/>
<rect x="311.19" y="207.81" width="11.77" height="11.77" fill="#f8b99e"/>
<rect x="322.66" y="207.81" width="11.77" height="11.77" fill="#f9c0a5"/>
<rect x="334.12" y="207.81" width="11.77" height="11.77" fill="#e4e2e7"/>
<rect x="345.59" y="207.81" width="11.77" height="11.77" fill="#eedfdc"/>
<rect x="47.50" y="219.27" width="11.77" height="11.77" fill="#dee0eb"/>
<rect x="58.97" y="219.27" width="11.77" height="11.77" fill="#e9e0e1"/>
<rect x="70.43" y="219.27" width="11.77" height="11.77" fill="#dee0eb"/>
<rect x="81.89" y="219.27" width="11.77" height="11.77" fill="#eedfdc"/>
<rect x="93.36" y="219.27" width="11.77" height="11.77" fill="#f9c4ab"/>
<rect x="104.83" y="219.27" width="11.77" height="11.77" fill="#f9c0a5"/>
<rect x="116.29" y="219.27" width="11.77" height="11.77" fill="#f8ceba"/>
<rect x="127.75" y="219.27" width="11.77" height="11.77" fill="#d3dcf1"/>
<rect x="139.22" y="219.27" width="11.77" height="11.77" fill="#d4ddf1"/>
<rect x="150.69" y="219.27" width="11.77" height="11.77" fill="#f2ded6"/>
<rect x="162.15" y="219.27" width="11.77" height="11.77" fill="#eedfdc"/>
<rect x="173.62" y="219.27" width="11.77" height="11.77" fill="#f7d9cc"/>
<rect x="185.08" y="219.27" width="11.77" height="11.77" fill="#f18b71"/>
<rect x="196.54" y="219.27" width="11.77" height="11.77" fill="#ea725f"/>
<rect x="208.01" y="219.27" width="11.77" height="11.77" fill="#f18b71"/>
<rect x="219.47" y="219.27" width="11.77" height="11.77" fill="#cc1b30"/>
<rect x="230.94" y="219.27" width="11.77" height="11.77" fill="#f08970"/>
<rect x="242.41" y="219.27" width="11.77" height="11.77" fill="#f28e73"/>
<rect x="253.87" y="219.27" width="11.77" height="11.77" fill="#f4987c"/>
<rect x="265.34" y="219.27" width="11.77" height="11.77" fill="#ec7a64"/>
<rect x="276.80" y="219.27" width="11.77" height="11.77" fill="#ed7f68"/>
<rect x="288.26" y="219.27" width="11.77" height="11.77" fill="#f9c3a9"/>
<rect x="299.73" y="219.27" width="11.77" height="11.77" fill="#f8b79c"/>
<rect x="311.19" y="219.27" width="11.77" height="11.77" fill="#f5a085"/>
<rect x="322.66" y="219.27" width="11.77" height="11.77" fill="#f9c0a5"/>
<rect x="334.12" y="219.27" width="11.77" height="11.77" fill="#eedfdc"/>
<rect x="345.59" y="219.27" width="11.77" height="11.77" fill="#f8cab4"/>
<rect x="47.50" y="230.74" width="11.77" height="11.77" fill="#f8ceba"/>
<rect x="58.97" y="230.74" width="11.77" height="11.77" fill="#f8ceba"/>
<rect x="70.43" y="230.74" width="11.77" height="11.77" fill="#f8ceba"/>
<rect x="81.89" y="230.74" width="11.77" height="11.77" fill="#f7ae93"/>
<rect x="93.36" y="230.74" width="11.77" height="11.77" fill="#f8b59a"/>
<rect x="104.83" y="230.74" width="11.77" height="11.77" fill="#f9c0a5"/>
<rect x="116.29" y="230.74" width="11.77" height="11.77" fill="#f49e82"/>
<rect x="127.75" y="230.74" width="11.77" height="11.77" fill="#dee0eb"/>
<rect x="139.22" y="230.74" width="11.77" height="11.77" fill="#efded9"/>
<rect x="150.69" y="230.74" width="11.77" height="11.77" fill="#e4e2e7"/>
<rect x="162.15" y="230.74" width="11.77" height="11.77" fill="#e4e2e7"/>
<rect x="173.62" y="230.74" width="11.77" height="11.77" fill="#e4e2e7"/>
<rect x="185.08" y="230.74" width="11.77" height="11.77" fill="#f28e73"/>
<rect x="196.54" y="230.74" width="11.77" height="11.77" fill="#f28e73"/>
<rect x="208.01" y="230.74" width="11.77" height="11.77" fill="#f39377"/>
<rect x="219.47" y="230.74" width="11.77" height="11.77" fill="#f08970"/>
<rect x="230.94" y="230.74" width="11.77" height="11.77" fill="#cc1b30"/>
<rect x="242.41" y="230.74" width="11.77" height="11.77" fill="#f28e73"/>
<rect x="253.87" y="230.74" width="11.77" height="11.77" fill="#f49e82"/>
<rect x="265.34" y="230.74" width="11.77" height="11.77" fill="#f5a387"/>
<rect x="276.80" y="230.74" width="11.77" height="11.77" fill="#f7d9cc"/>
<rect x="288.26" y="230.74" width="11.77" height="11.77" fill="#f8b99e"/>
<rect x="299.73" y="230.74" width="11.77" height="11.77" fill="#f7b095"/>
<rect x="311.19" y="230.74" width="11.77" height="11.77" fill="#f08970"/>
<rect x="322.66" y="230.74" width="11.77" height="11.77" fill="#f9c3a9"/>
<rect x="334.12" y="230.74" width="11.77" height="11.77" fill="#f7b095"/>
<rect x="345.59" y="230.74" width="11.77" height="11.77" fill="#f5a589"/>
<rect x="47.50" y="242.20" width="11.77" height="11.77" fill="#f8ceba"/>
<rect x="58.97" y="242.20" width="11.77" height="11.77" fill="#f8ceba"/>
<rect x="70.43" y="242.20" width="11.77" height="11.77" fill="#f7dcd0"/>
<rect x="81.89" y="242.20" width="11.77" height="11.77" fill="#f8b99e"/>
<rect x="93.36" y="242.20" width="11.77" height="11.77" fill="#f49e82"/>
<rect x="104.83" y="242.20" width="11.77" height="11.77" fill="#f8cab4"/>
<rect x="116.29" y="242.20" width="11.77" height="11.77" fill="#f8bca0"/>
<rect x="127.75" y="242.20" width="11.77" height="11.77" fill="#dbdfed"/>
<rect x="139.22" y="242.20" width="11.77" height="11.77" fill="#dee0eb"/>
<rect x="150.69" y="242.20" width="11.77" height="11.77" fill="#e4e2e7"/>
<rect x="162.15" y="242.20" width="11.77" height="11.77" fill="#f8cbb6"/>
<rect x="173.62" y="242.20" width="11.77" height="11.77" fill="#eedfdc"/>
<rect x="185.08" y="242.20" width="11.77" height="11.77" fill="#f39377"/>
<rect x="196.54" y="242.20" width="11.77" height="11.77" fill="#f39377"/>
<rect x="208.01" y="242.20" width="11.77" height="11.77" fill="#f8bca0"/>
<rect x="219.47" y="242.20" width="11.77" height="11.77" fill="#f28e73"/>
<rect x="230.94" y="242.20" width="11.77" height="11.77" fill="#f28e73"/>
<rect x="242.41" y="242.20" width="11.77" height="11.77" fill="#cc1b30"/>
<rect x="253.87" y="242.20" width="11.77" height="11.77" fill="#f0866e"/>
<rect x="265.34" y="242.20" width="11.77" height="11.77" fill="#f39377"/>
<rect x="276.80" y="242.20" width="11.77" height="11.77" fill="#f9c0a5"/>
<rect x="288.26" y="242.20" width="11.77" height="11.77" fill="#f7ae93"/>
<rect x="299.73" y="242.20" width="11.77" height="11.77" fill="#f6aa8e"/>
<rect x="311.19" y="242.20" width="11.77" height="11.77" fill="#f4987c"/>
<rect x="322.66" y="242.20" width="11.77" height="11.77" fill="#f9c3a9"/>
<rect x="334.12" y="242.20" width="11.77" height="11.77" fill="#f8cab4"/>
<rect x="345.59" y="242.20" width="11.77" height="11.77" fill="#f8cbb6"/>
<rect x="47.50" y="253.67" width="11.77" height="11.77" fill="#e4e2e7"/>
<rect x="58.97" y="253.67" width="11.77" height="11.77" fill="#e6e1e5"/>
<rect x="70.43" y="253.67" width="11.77" height="11.77" fill="#d4ddf1"/>
<rect x="81.89" y="253.67" width="11.77" height="11.77" fill="#f8d1bf"/>
<rect x="93.36" y="253.67" width="11.77" height="11.77" fill="#f8bca0"/>
<rect x="104.83" y="253.67" width="11.77" height="11.77" fill="#e9e0e1"/>
<rect x="116.29" y="253.67" width="11.77" height="11.77" fill="#f8ceba"/>
<rect x="127.75" y="253.67" width="11.77" height="11.77" fill="#a7c3fc"/>
<rect x="139.22" y="253.67" width="11.77" height="11.77" fill="#a4c0fc"/>
<rect x="150.69" y="253.67" width="11.77" height="11.77" fill="#ece0de"/>
<rect x="162.15" y="253.67" width="11.77" height="11.77" fill="#d4ddf1"/>
<rect x="173.62" y="253.67" width="11.77" height="11.77" fill="#c6d7f8"/>
<rect x="185.08" y="253.67" width="11.77" height="11.77" fill="#f49e82"/>
<rect x="196.54" y="253.67" width="11.77" height="11.77" fill="#f39377"/>
<rect x="208.01" y="253.67" width="11.77" height="11.77" fill="#f49a7e"/>
<rect x="219.47" y="253.67" width="11.77" height="11.77" fill="#f4987c"/>
<rect x="230.94" y="253.67" width="11.77" height="11.77" fill="#f49e82"/>
<rect x="242.41" y="253.67" width="11.77" height="11.77" fill="#f0866e"/>
<rect x="253.87" y="253.67" width="11.77" height="11.77" fill="#cc1b30"/>
<rect x="265.34" y="253.67" width="11.77" height="11.77" fill="#f28e73"/>
<rect x="276.80" y="253.67" width="11.77" height="11.77" fill="#f6aa8e"/>
<rect x="288.26" y="253.67" width="11.77" height="11.77" fill="#f5ddd2"/>
<rect x="299.73" y="253.67" width="11.77" height="11.77" fill="#f8d5c5"/>
<rect x="311.19" y="253.67" width="11.77" height="11.77" fill="#f8ceba"/>
<rect x="322.66" y="253.67" width="11.77" height="11.77" fill="#e0e1e9"/>
<rect x="334.12" y="253.67" width="11.77" height="11.77" fill="#ebe0df"/>
<rect x="345.59" y="253.67" width="11.77" height="11.77" fill="#e4e2e7"/>
<rect x="47.50" y="265.13" width="11.77" height="11.77" fill="#e0e1e9"/>
<rect x="58.97" y="265.13" width="11.77" height="11.77" fill="#e4e2e7"/>
<rect x="70.43" y="265.13" width="11.77" height="11.77" fill="#c6d7f8"/>
<rect x="81.89" y="265.13" width="11.77" height="11.77" fill="#f8d5c5"/>
<rect x="93.36" y="265.13" width="11.77" height="11.77" fill="#f9c0a5"/>
<rect x="104.83" y="265.13" width="11.77" height="11.77" fill="#e6e1e5"/>
<rect x="116.29" y="265.13" width="11.77" height="11.77" fill="#f8ceba"/>
<rect x="127.75" y="265.13" width="11.77" height="11.77" fill="#abc5fc"/>
<rect x="139.22" y="265.13" width="11.77" height="11.77" fill="#9ebbfc"/>
<rect x="150.69" y="265.13" width="11.77" height="11.77" fill="#cad9f7"/>
<rect x="162.15" y="265.13" width="11.77" height="11.77" fill="#dee0eb"/>
<rect x="173.62" y="265.13" width="11.77" height="11.77" fill="#e1e1e9"/>
<rect x="185.08" y="265.13" width="11.77" height="11.77" fill="#f5a387"/>
<rect x="196.54" y="265.13" width="11.77" height="11.77" fill="#f39377"/>
<rect x="208.01" y="265.13" width="11.77" height="11.77" fill="#f5a387"/>
<rect x="219.47" y="265.13" width="11.77" height="11.77" fill="#ec7a64"/>
<rect x="230.94" y="265.13" width="11.77" height="11.77" fill="#f5a387"/>
<rect x="242.41" y="265.13" width="11.77" height="11.77" fill="#f39377"/>
<rect x="253.87" y="265.13" width="11.77" height="11.77" fill="#f28e73"/>
<rect x="265.34" y="265.13" width="11.77" height="11.77" fill="#cc1b30"/>
<rect x="276.80" y="265.13" width="11.77" height="11.77" fill="#f39377"/>
<rect x="288.26" y="265.13" width="11.77" height="11.77" fill="#f8d5c5"/>
<rect x="299.73" y="265.13" width="11.77" height="11.77" fill="#f8ceba"/>
<rect x="311.19" y="265.13" width="11.77" height="11.77" fill="#f8cab4"/>
<rect x="322.66" y="265.13" width="11.77" height="11.77" fill="#f8cbb6"/>
<rect x="334.12" y="265.13" width="11.77" height="11.77" fill="#e4e2e7"/>
<rect x="345.59" y="265.13" width="11.77" height="11.77" fill="#ece0de"/>
<rect x="47.50" y="276.60" width="11.77" height="11.77" fill="#f7d9cc"/>
<rect x="58.97" y="276.60" width="11.77" height="11.77" fill="#f8b59a"/>
<rect x="70.43" y="276.60" width="11.77" height="11.77" fill="#f2ded6"/>
<rect x="81.89" y="276.60" width="11.77" height="11.77" fill="#f8cbb6"/>
<rect x="93.36" y="276.60" width="11.77" height="11.77" fill="#f8cab4"/>
<rect x="104.83" y="276.60" width="11.77" height="11.77" fill="#f8d5c5"/>
<rect x="116.29" y="276.60" width="11.77" height="11.77" fill="#f7b095"/>
<rect x="127.75" y="276.60" width="11.77" height="11.77" fill="#eedfdc"/>
<rect x="139.22" y="276.60" width="11.77" height="11.77" fill="#d7deef"/>
<rect x="150.69" y="276.60" width="11.77" height="11.77" fill="#dbdfed"/>
<rect x="162.15" y="276.60" width="11.77" height="11.77" fill="#f8b59a"/>
<rect x="173.62" y="276.60" width="11.77" height="11.77" fill="#dadeed"/>
<rect x="185.08" y="276.60" width="11.77" height="11.77" fill="#f5ddd2"/>
<rect x="196.54" y="276.60" width="11.77" height="11.77" fill="#f8c7b0"/>
<rect x="208.01" y="276.60" width="11.77" height="11.77" fill="#f2ded6"/>
<rect x="219.47" y="276.60" width="11.77" height="11.77" fill="#ed7f68"/>
<rect x="230.94" y="276.60" width="11.77" height="11.77" fill="#f7d9cc"/>
<rect x="242.41" y="276.60" width="11.77" height="11.77" fill="#f9c0a5"/>
<rect x="253.87" y="276.60" width="11.77" height="11.77" fill="#f6aa8e"/>
<rect x="265.34" y="276.60" width="11.77" height="11.77" fill="#f39377"/>
<rect x="276.80" y="276.60" width="11.77" height="11.77" fill="#cc1b30"/>
<rect x="288.26" y="276.60" width="11.77" height="11.77" fill="#f2ded6"/>
<rect x="299.73" y="276.60" width="11.77" height="11.77" fill="#f2ded6"/>
<rect x="311.19" y="276.60" width="11.77" height="11.77" fill="#f5ddd2"/>
<rect x="322.66" y="276.60" width="11.77" height="11.77" fill="#dee0eb"/>
<rect x="334.12" y="276.60" width="11.77" height="11.77" fill="#e4e2e7"/>
<rect x="345.59" y="276.60" width="11.77" height="11.77" fill="#ece0de"/>
<rect x="47.50" y="288.06" width="11.77" height="11.77" fill="#f8ceba"/>
<rect x="58.97" y="288.06" width="11.77" height="11.77" fill="#eedfdc"/>
<rect x="70.43" y="288.06" width="11.77" height="11.77" fill="#e0e1e9"/>
<rect x="81.89" y="288.06" width="11.77" height="11.77" fill="#e7e1e4"/>
<rect x="93.36" y="288.06" width="11.77" height="11.77" fill="#f7dcd0"/>
<rect x="104.83" y="288.06" width="11.77" height="11.77" fill="#cad9f7"/>
<rect x="116.29" y="288.06" width="11.77" height="11.77" fill="#e4e2e7"/>
<rect x="127.75" y="288.06" width="11.77" height="11.77" fill="#d7deef"/>
<rect x="139.22" y="288.06" width="11.77" height="11.77" fill="#dee0eb"/>
<rect x="150.69" y="288.06" width="11.77" height="11.77" fill="#b3cbfa"/>
<rect x="162.15" y="288.06" width="11.77" height="11.77" fill="#e1e1e9"/>
<rect x="173.62" y="288.06" width="11.77" height="11.77" fill="#f8d5c5"/>
<rect x="185.08" y="288.06" width="11.77" height="11.77" fill="#f8b59a"/>
<rect x="196.54" y="288.06" width="11.77" height="11.77" fill="#f8b59a"/>
<rect x="208.01" y="288.06" width="11.77" height="11.77" fill="#f8c8b2"/>
<rect x="219.47" y="288.06" width="11.77" height="11.77" fill="#f9c3a9"/>
<rect x="230.94" y="288.06" width="11.77" height="11.77" fill="#f8b99e"/>
<rect x="242.41" y="288.06" width="11.77" height="11.77" fill="#f7ae93"/>
<rect x="253.87" y="288.06" width="11.77" height="11.77" fill="#f5ddd2"/>
<rect x="265.34" y="288.06" width="11.77" height="11.77" fill="#f8d5c5"/>
<rect x="276.80" y="288.06" width="11.77" height="11.77" fill="#f2ded6"/>
<rect x="288.26" y="288.06" width="11.77" height="11.77" fill="#cc1b30"/>
<rect x="299.73" y="288.06" width="11.77" height="11.77" fill="#d4303a"/>
<rect x="311.19" y="288.06" width="11.77" height="11.77" fill="#d6373e"/>
<rect x="322.66" y="288.06" width="11.77" height="11.77" fill="#f0866e"/>
<rect x="334.12" y="288.06" width="11.77" height="11.77" fill="#ec7a64"/>
<rect x="345.59" y="288.06" width="11.77" height="11.77" fill="#f0866e"/>
<rect x="47.50" y="299.53" width="11.77" height="11.77" fill="#f8cab4"/>
<rect x="58.97" y="299.53" width="11.77" height="11.77" fill="#e9e0e1"/>
<rect x="70.43" y="299.53" width="11.77" height="11.77" fill="#dadeed"/>
<rect x="81.89" y="299.53" width="11.77" height="11.77" fill="#e9e0e1"/>
<rect x="93.36" y="299.53" width="11.77" height="11.77" fill="#f8c7b0"/>
<rect x="104.83" y="299.53" width="11.77" height="11.77" fill="#dbdfed"/>
<rect x="116.29" y="299.53" width="11.77" height="11.77" fill="#e4e2e7"/>
<rect x="127.75" y="299.53" width="11.77" height="11.77" fill="#c6d7f8"/>
<rect x="139.22" y="299.53" width="11.77" height="11.77" fill="#d7deef"/>
<rect x="150.69" y="299.53" width="11.77" height="11.77" fill="#b3cbfa"/>
<rect x="162.15" y="299.53" width="11.77" height="11.77" fill="#b8cefa"/>
<rect x="173.62" y="299.53" width="11.77" height="11.77" fill="#eae0e0"/>
<rect x="185.08" y="299.53" width="11.77" height="11.77" fill="#f7b297"/>
<rect x="196.54" y="299.53" width="11.77" height="11.77" fill="#f49e82"/>
<rect x="208.01" y="299.53" width="11.77" height="11.77" fill="#f9c4ab"/>
<rect x="219.47" y="299.53" width="11.77" height="11.77" fill="#f8b79c"/>
<rect x="230.94" y="299.53" width="11.77" height="11.77" fill="#f7b095"/>
<rect x="242.41" y="299.53" width="11.77" height="11.77" fill="#f6aa8e"/>
<rect x="253.87" y="299.53" width="11.77" height="11.77" fill="#f8d5c5"/>
<rect x="265.34" y="299.53" width="11.77" height="11.77" fill="#f8ceba"/>
<rect x="276.80" y="299.53" width="11.77" height="11.77" fill="#f2ded6"/>
<rect x="288.26" y="299.53" width="11.77" height="11.77" fill="#d4303a"/>
<rect x="299.73" y="299.53" width="11.77" height="11.77" fill="#cc1b30"/>
<rect x="311.19" y="299.53" width="11.77" height="11.77" fill="#d4303a"/>
<rect x="322.66" y="299.53" width="11.77" height="11.77" fill="#f0866e"/>
<rect x="334.12" y="299.53" width="11.77" height="11.77" fill="#ed7f68"/>
<rect x="345.59" y="299.53" width="11.77" height="11.77" fill="#f0866e"/>
<rect x="47.50" y="311.00" width="11.77" height="11.77" fill="#f8ceba"/>
<rect x="58.97" y="311.00" width="11.77" height="11.77" fill="#efded9"/>
<rect x="70.43" y="311.00" width="11.77" height="11.77" fill="#e6e1e5"/>
<rect x="81.89" y="311.00" width="11.77" height="11.77" fill="#f4ddd3"/>
<rect x="93.36" y="311.00" width="11.77" height="11.77" fill="#f9c0a5"/>
<rect x="104.83" y="311.00" width="11.77" height="11.77" fill="#e4e2e7"/>
<rect x="116.29" y="311.00" width="11.77" height="11.77" fill="#efded9"/>
<rect x="127.75" y="311.00" width="11.77" height="11.77" fill="#d0dbf3"/>
<rect x="139.22" y="311.00" width="11.77" height="11.77" fill="#efded9"/>
<rect x="150.69" y="311.00" width="11.77" height="11.77" fill="#cfdbf4"/>
<rect x="162.15" y="311.00" width="11.77" height="11.77" fill="#dee0eb"/>
<rect x="173.62" y="311.00" width="11.77" height="11.77" fill="#f7dcd0"/>
<rect x="185.08" y="311.00" width="11.77" height="11.77" fill="#f4987c"/>
<rect x="196.54" y="311.00" width="11.77" height="11.77" fill="#f08970"/>
<rect x="208.01" y="311.00" width="11.77" height="11.77" fill="#f8b99e"/>
<rect x="219.47" y="311.00" width="11.77" height="11.77" fill="#f5a085"/>
<rect x="230.94" y="311.00" width="11.77" height="11.77" fill="#f08970"/>
<rect x="242.41" y="311.00" width="11.77" height="11.77" fill="#f4987c"/>
<rect x="253.87" y="311.00" width="11.77" height="11.77" fill="#f8ceba"/>
<rect x="265.34" y="311.00" width="11.77" height="11.77" fill="#f8cab4"/>
<rect x="276.80" y="311.00" width="11.77" height="11.77" fill="#f5ddd2"/>
<rect x="288.26" y="311.00" width="11.77" height="11.77" fill="#d6373e"/>
<rect x="299.73" y="311.00" width="11.77" height="11.77" fill="#d4303a"/>
<rect x="311.19" y="311.00" width="11.77" height="11.77" fill="#cc1b30"/>
<rect x="322.66" y="311.00" width="11.77" height="11.77" fill="#f28e73"/>
<rect x="334.12" y="311.00" width="11.77" height="11.77" fill="#f0866e"/>
<rect x="345.59" y="311.00" width="11.77" height="11.77" fill="#f39377"/>
<rect x="47.50" y="322.46" width="11.77" height="11.77" fill="#eedfdc"/>
<rect x="58.97" y="322.46" width="11.77" height="11.77" fill="#eedfdc"/>
<rect x="70.43" y="322.46" width="11.77" height="11.77" fill="#dee0eb"/>
<rect x="81.89" y="322.46" width="11.77" height="11.77" fill="#cad9f7"/>
<rect x="93.36" y="322.46" width="11.77" height="11.77" fill="#dbdfed"/>
<rect x="104.83" y="322.46" width="11.77" height="11.77" fill="#f8ceba"/>
<rect x="116.29" y="322.46" width="11.77" height="11.77" fill="#dee0eb"/>
<rect x="127.75" y="322.46" width="11.77" height="11.77" fill="#f8d1bf"/>
<rect x="139.22" y="322.46" width="11.77" height="11.77" fill="#f8b99e"/>
<rect x="150.69" y="322.46" width="11.77" height="11.77" fill="#eedfdc"/>
<rect x="162.15" y="322.46" width="11.77" height="11.77" fill="#f7d9cc"/>
<rect x="173.62" y="322.46" width="11.77" height="11.77" fill="#f5a387"/>
<rect x="185.08" y="322.46" width="11.77" height="11.77" fill="#f8b99e"/>
<rect x="196.54" y="322.46" width="11.77" height="11.77" fill="#f49e82"/>
<rect x="208.01" y="322.46" width="11.77" height="11.77" fill="#f9c0a5"/>
<rect x="219.47" y="322.46" width="11.77" height="11.77" fill="#f9c0a5"/>
<rect x="230.94" y="322.46" width="11.77" height="11.77" fill="#f9c3a9"/>
<rect x="242.41" y="322.46" width="11.77" height="11.77" fill="#f9c3a9"/>
<rect x="253.87" y="322.46" width="11.77" height="11.77" fill="#e0e1e9"/>
<rect x="265.34" y="322.46" width="11.77" height="11.77" fill="#f8cbb6"/>
<rect x="276.80" y="322.46" width="11.77" height="11.77" fill="#dee0eb"/>
<rect x="288.26" y="322.46" width="11.77" height="11.77" fill="#f0866e"/>
<rect x="299.73" y="322.46" width="11.77" height="11.77" fill="#f0866e"/>
<rect x="311.19" y="322.46" width="11.77" height="11.77" fill="#f28e73"/>
<rect x="322.66" y="322.46" width="11.77" height="11.77" fill="#cc1b30"/>
<rect x="334.12" y="322.46" width="11.77" height="11.77" fill="#f5a589"/>
<rect x="345.59" y="322.46" width="11.77" height="11.77" fill="#f5a589"/>
<rect x="47.50" y="333.93" width="11.77" height="11.77" fill="#f0866e"/>
<rect x="58.97" y="333.93" width="11.77" height="11.77" fill="#f49a7e"/>
<rect x="70.43" y="333.93" width="11.77" height="11.77" fill="#f5a387"/>
<rect x="81.89" y="333.93" width="11.77" height="11.77" fill="#f8bca0"/>
<rect x="93.36" y="333.93" width="11.77" height="11.77" fill="#f6aa8e"/>
<rect x="104.83" y="333.93" width="11.77" height="11.77" fill="#efded9"/>
<rect x="116.29" y="333.93" width="11.77" height="11.77" fill="#f5ddd2"/>
<rect x="127.75" y="333.93" width="11.77" height="11.77" fill="#f8bca0"/>
<rect x="139.22" y="333.93" width="11.77" height="11.77" fill="#f8d1bf"/>
<rect x="150.69" y="333.93" width="11.77" height="11.77" fill="#eedfdc"/>
<rect x="162.15" y="333.93" width="11.77" height="11.77" fill="#cedaf5"/>
<rect x="173.62" y="333.93" width="11.77" height="11.77" fill="#e4e2e7"/>
<rect x="185.08" y="333.93" width="11.77" height="11.77" fill="#f8d5c5"/>
<rect x="196.54" y="333.93" width="11.77" height="11.77" fill="#f7d9cc"/>
<rect x="208.01" y="333.93" width="11.77" height="11.77" fill="#e4e2e7"/>
<rect x="219.47" y="333.93" width="11.77" height="11.77" fill="#eedfdc"/>
<rect x="230.94" y="333.93" width="11.77" height="11.77" fill="#f7b095"/>
<rect x="242.41" y="333.93" width="11.77" height="11.77" fill="#f8cab4"/>
<rect x="253.87" y="333.93" width="11.77" height="11.77" fill="#ebe0df"/>
<rect x="265.34" y="333.93" width="11.77" height="11.77" fill="#e4e2e7"/>
<rect x="276.80" y="333.93" width="11.77" height="11.77" fill="#e4e2e7"/>
<rect x="288.26" y="333.93" width="11.77" height="11.77" fill="#ec7a64"/>
<rect x="299.73" y="333.93" width="11.77" height="11.77" fill="#ed7f68"/>
<rect x="311.19" y="333.93" width="11.77" height="11.77" fill="#f0866e"/>
<rect x="322.66" y="333.93" width="11.77" height="11.77" fill="#f5a589"/>
<rect x="334.12" y="333.93" width="11.77" height="11.77" fill="#cc1b30"/>
<rect x="345.59" y="333.93" width="11.77" height="11.77" fill="#f49a7e"/>
<rect x="47.50" y="345.39" width="11.77" height="11.77" fill="#f8ceba"/>
<rect x="58.97" y="345.39" width="11.77" height="11.77" fill="#f7d9cc"/>
<rect x="70.43" y="345.39" width="11.77" height="11.77" fill="#f8d2c1"/>
<rect x="81.89" y="345.39" width="11.77" height="11.77" fill="#f2ded6"/>
<rect x="93.36" y="345.39" width="11.77" height="11.77" fill="#f8d5c5"/>
<rect x="104.83" y="345.39" width="11.77" height="11.77" fill="#f8ceba"/>
<rect x="116.29" y="345.39" width="11.77" height="11.77" fill="#f8cab4"/>
<rect x="127.75" y="345.39" width="11.77" height="11.77" fill="#ece0de"/>
<rect x="139.22" y="345.39" width="11.77" height="11.77" fill="#f8cab4"/>
<rect x="150.69" y="345.39" width="11.77" height="11.77" fill="#c0d2f8"/>
<rect x="162.15" y="345.39" width="11.77" height="11.77" fill="#cbd9f6"/>
<rect x="173.62" y="345.39" width="11.77" height="11.77" fill="#e4e2e7"/>
<rect x="185.08" y="345.39" width="11.77" height="11.77" fill="#ece0de"/>
<rect x="196.54" y="345.39" width="11.77" height="11.77" fill="#f8cbb6"/>
<rect x="208.01" y="345.39" width="11.77" height="11.77" fill="#eedfdc"/>
<rect x="219.47" y="345.39" width="11.77" height="11.77" fill="#f8cab4"/>
<rect x="230.94" y="345.39" width="11.77" height="11.77" fill="#f5a589"/>
<rect x="242.41" y="345.39" width="11.77" height="11.77" fill="#f8cbb6"/>
<rect x="253.87" y="345.39" width="11.77" height="11.77" fill="#e4e2e7"/>
<rect x="265.34" y="345.39" width="11.77" height="11.77" fill="#ece0de"/>
<rect x="276.80" y="345.39" width="11.77" height="11.77" fill="#ece0de"/>
<rect x="288.26" y="345.39" width="11.77" height="11.77" fill="#f0866e"/>
<rect x="299.73" y="345.39" width="11.77" height="11.77" fill="#f0866e"/>
<rect x="311.19" y="345.39" width="11.77" height="11.77" fill="#f39377"/>
<rect x="322.66" y="345.39" width="11.77" height="11.77" fill="#f5a589"/>
<rect x="334.12" y="345.39" width="11.77" height="11.77" fill="#f49a7e"/>
<rect x="345.59" y="345.39" width="11.77" height="11.77" fill="#cc1b30"/></g>
<g class="lab"><text x="46.0" y="55.50" text-anchor="end">PDGF-bb</text>
<text x="46.0" y="66.90" text-anchor="end">IL-9</text>
<text x="46.0" y="78.30" text-anchor="end">MIP-1α</text>
<text x="46.0" y="89.70" text-anchor="end">IL-12(p70)</text>
<text x="46.0" y="101.10" text-anchor="end">Basic FGF</text>
<text x="46.0" y="112.50" text-anchor="end">IL-6</text>
<text x="46.0" y="123.90" text-anchor="end">GM-CSF</text>
<text x="46.0" y="135.30" text-anchor="end">IL-7</text>
<text x="46.0" y="146.70" text-anchor="end">IL-13</text>
<text x="46.0" y="158.10" text-anchor="end">IP-10</text>
<text x="46.0" y="169.50" text-anchor="end">MCP-1</text>
<text x="46.0" y="180.90" text-anchor="end">MIP-1β</text>
<text x="46.0" y="192.30" text-anchor="end">IL-1β</text>
<text x="46.0" y="203.70" text-anchor="end">IL-1ra</text>
<text x="46.0" y="215.10" text-anchor="end">IFN-γ</text>
<text x="46.0" y="226.50" text-anchor="end">IL-10</text>
<text x="46.0" y="237.90" text-anchor="end">IL-5</text>
<text x="46.0" y="249.30" text-anchor="end">TNF-α</text>
<text x="46.0" y="260.70" text-anchor="end">IL-2</text>
<text x="46.0" y="272.10" text-anchor="end">IL-15</text>
<text x="46.0" y="283.50" text-anchor="end">Eotaxin</text>
<text x="46.0" y="294.90" text-anchor="end">IL-4</text>
<text x="46.0" y="306.30" text-anchor="end">IL-17</text>
<text x="46.0" y="317.70" text-anchor="end">VEGF</text>
<text x="46.0" y="329.10" text-anchor="end">IL-8</text>
<text x="46.0" y="340.50" text-anchor="end">G-CSF</text>
<text x="46.0" y="351.90" text-anchor="end">RANTES</text></g>
<g class="lab"><text transform="translate(56.60,45.3) rotate(-90)">PDGF-bb</text>
<text transform="translate(68.04,45.3) rotate(-90)">IL-9</text>
<text transform="translate(79.49,45.3) rotate(-90)">MIP-1α</text>
<text transform="translate(90.93,45.3) rotate(-90)">IL-12(p70)</text>
<text transform="translate(102.37,45.3) rotate(-90)">Basic FGF</text>
<text transform="translate(113.81,45.3) rotate(-90)">IL-6</text>
<text transform="translate(125.26,45.3) rotate(-90)">GM-CSF</text>
<text transform="translate(136.70,45.3) rotate(-90)">IL-7</text>
<text transform="translate(148.14,45.3) rotate(-90)">IL-13</text>
<text transform="translate(159.59,45.3) rotate(-90)">IP-10</text>
<text transform="translate(171.03,45.3) rotate(-90)">MCP-1</text>
<text transform="translate(182.47,45.3) rotate(-90)">MIP-1β</text>
<text transform="translate(193.92,45.3) rotate(-90)">IL-1β</text>
<text transform="translate(205.36,45.3) rotate(-90)">IL-1ra</text>
<text transform="translate(216.80,45.3) rotate(-90)">IFN-γ</text>
<text transform="translate(228.24,45.3) rotate(-90)">IL-10</text>
<text transform="translate(239.69,45.3) rotate(-90)">IL-5</text>
<text transform="translate(251.13,45.3) rotate(-90)">TNF-α</text>
<text transform="translate(262.57,45.3) rotate(-90)">IL-2</text>
<text transform="translate(274.02,45.3) rotate(-90)">IL-15</text>
<text transform="translate(285.46,45.3) rotate(-90)">Eotaxin</text>
<text transform="translate(296.90,45.3) rotate(-90)">IL-4</text>
<text transform="translate(308.35,45.3) rotate(-90)">IL-17</text>
<text transform="translate(319.79,45.3) rotate(-90)">VEGF</text>
<text transform="translate(331.23,45.3) rotate(-90)">IL-8</text>
<text transform="translate(342.68,45.3) rotate(-90)">G-CSF</text>
<text transform="translate(354.12,45.3) rotate(-90)">RANTES</text></g>
<g><rect x="205.00" y="376.00" width="13.87" height="16.80" fill="#cc1b30"/>
<rect x="218.57" y="376.00" width="13.87" height="16.80" fill="#e56052"/>
<rect x="232.15" y="376.00" width="13.87" height="16.80" fill="#f39377"/>
<rect x="245.72" y="376.00" width="13.87" height="16.80" fill="#f9c0a5"/>
<rect x="259.29" y="376.00" width="13.87" height="16.80" fill="#f7dcd0"/>
<rect x="272.86" y="376.00" width="13.87" height="16.80" fill="#e4e2e7"/>
<rect x="286.44" y="376.00" width="13.87" height="16.80" fill="#cad9f7"/>
<rect x="300.01" y="376.00" width="13.87" height="16.80" fill="#a7c3fc"/>
<rect x="313.58" y="376.00" width="13.87" height="16.80" fill="#84a2fa"/>
<rect x="327.15" y="376.00" width="13.87" height="16.80" fill="#617fe8"/>
<rect x="340.73" y="376.00" width="13.87" height="16.80" fill="#3f56ca"/></g>
<text class="ttl" x="216.9" y="370.6">Correlation (R-value)</text>
<polygon shape-rendering="geometricPrecision" fill="#000" points="217.0,394.9 218.9,394.9 218.9,405.5 216.1,405.5 216.1,398.3 214.0,399.8 214.0,397.4 216.2,395.6"/>
<rect x="340.3" y="400.1" width="3.5" height="2.2" fill="#000"/><polygon shape-rendering="geometricPrecision" fill="#000" points="347.3,394.9 349.2,394.9 349.2,405.5 346.4,405.5 346.4,398.3 344.3,399.8 344.3,397.4 346.5,395.6"/>
</svg>
</body></html>
